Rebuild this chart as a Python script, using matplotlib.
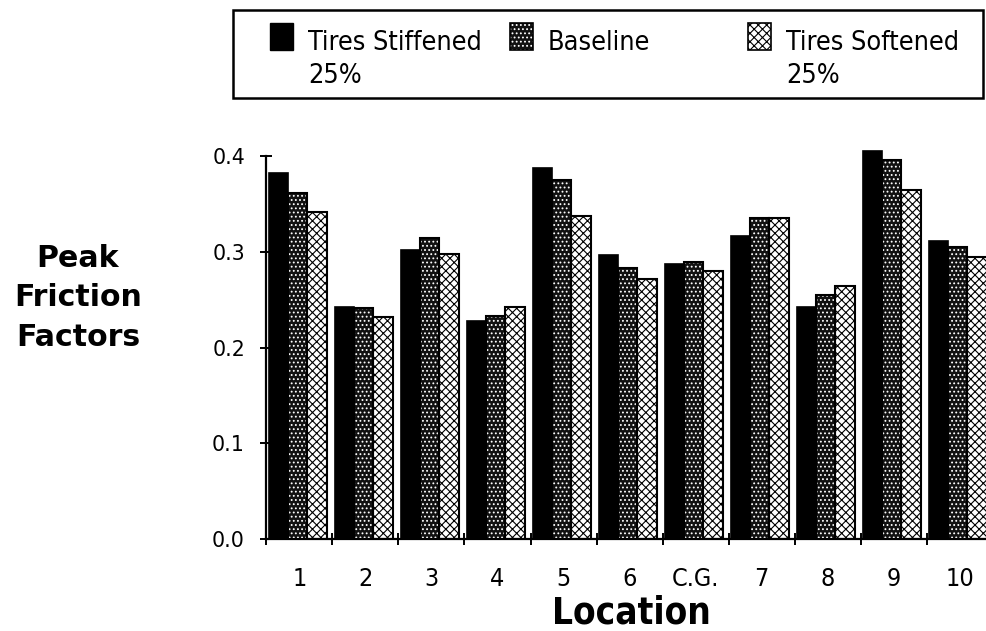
import numpy as np
import matplotlib
matplotlib.use("Agg")
import matplotlib.pyplot as plt
from matplotlib import font_manager as fm
from matplotlib.patches import Rectangle

# ---- data ----
locations = ["1", "2", "3", "4", "5", "6", "C.G.", "7", "8", "9", "10"]
stiffened = [0.382, 0.242, 0.302, 0.228, 0.387, 0.297, 0.287, 0.316, 0.242, 0.405, 0.311]
baseline = [0.361, 0.241, 0.314, 0.233, 0.375, 0.283, 0.289, 0.335, 0.255, 0.396, 0.305]
softened = [0.341, 0.232, 0.298, 0.242, 0.337, 0.272, 0.280, 0.335, 0.264, 0.365, 0.294]
yticks = [0.0, 0.1, 0.2, 0.3, 0.4]
series_names = ["Tires Stiffened\n25%", "Baseline", "Tires Softened\n25%"]

# ---- fonts ----
_names = {f.name for f in fm.fontManager.ttflist}
if "Liberation Sans Narrow" in _names:
    NARROW = dict(family="Liberation Sans Narrow")
else:
    NARROW = dict(family="DejaVu Sans", stretch="condensed")

plt.rcParams["hatch.linewidth"] = 0.8

W, H = 987, 631
fig = plt.figure(figsize=(W / 100, H / 100), dpi=100)

# axes placed in pixel terms: x from 266.5 (group boundary -0.5) with 66 px per group,
# y: 0 at 539 px, 0.4 at 156 px
px_per_unit = (539 - 156) / 0.4
ytop = 0.42
ax_left, ax_bottom = 266.5, 539
ax_w = 11 * 66.0
ax_h = ytop * px_per_unit
ax = fig.add_axes([ax_left / W, (H - ax_bottom) / H, ax_w / W, ax_h / H])
ax.set_xlim(-0.5, 10.5)
ax.set_ylim(0, ytop)

x = np.arange(len(locations))
bw = 0.29
start = -0.46
offs = [start + bw / 2 + k * bw for k in range(3)]

DOTS = "...."
CROSS = "xxxx"

def draw_series(ax, xs, vals, kind):
    if kind == "solid":
        ax.bar(xs, vals, bw, color="black", edgecolor="black", linewidth=1.2, zorder=2)
    elif kind == "dots":
        ax.bar(xs, vals, bw, color="#111111", edgecolor="#111111", linewidth=0, zorder=2)
        ax.bar(xs, vals, bw, color="none", edgecolor="white", hatch=DOTS, linewidth=0, zorder=3)
        ax.bar(xs, vals, bw, color="none", edgecolor="black", linewidth=1.5, zorder=4)
    else:
        ax.bar(xs, vals, bw, color="white", edgecolor="black", hatch=CROSS, linewidth=0, zorder=2)
        ax.bar(xs, vals, bw, color="none", edgecolor="black", linewidth=1.5, zorder=4)

draw_series(ax, x + offs[0], stiffened, "solid")
draw_series(ax, x + offs[1], baseline, "dots")
draw_series(ax, x + offs[2], softened, "cross")

for s in ["top", "right"]:
    ax.spines[s].set_visible(False)
ax.spines["left"].set_bounds(0, 0.4)
ax.spines["left"].set_linewidth(1.6)
ax.spines["bottom"].set_linewidth(1.6)
ax.spines["left"].set_zorder(5)

ax.set_yticks(yticks)
ax.set_yticklabels([f"{v:.1f}" for v in yticks], family="DejaVu Sans", fontsize=14.8)
ax.tick_params(axis="y", direction="inout", length=8, width=1.4, pad=11.5)

ax.set_xticks(np.arange(-0.5, 10.0, 1.0))
ax.set_xticklabels([])
ax.tick_params(axis="x", which="major", direction="inout", length=9, width=1.4)
ax.set_xticks(x, minor=True)
ax.set_xticklabels(locations, minor=True, fontsize=18, **NARROW)
ax.tick_params(axis="x", which="minor", length=0, pad=20)

# axis titles
fig.text(631 / W, (H - 623) / H, "Location", ha="center", va="baseline",
         fontsize=26.5, fontweight="bold", **NARROW)
fig.text(78 / W, (H - 298) / H, "Peak\nFriction\nFactors", ha="center", va="center",
         multialignment="center", fontsize=21.6, fontweight="bold",
         family="DejaVu Sans", linespacing=1.45)

# legend box in pixel coordinates
lg = fig.add_axes([0, 0, 1, 1], facecolor="none")
lg.set_xlim(0, W)
lg.set_ylim(H, 0)
lg.axis("off")
lg.add_patch(Rectangle((233, 10), 750, 88, fill=False, edgecolor="black", linewidth=1.8))

swatches = [(270, "solid"), (510, "dots"), (748, "cross")]
for (sx, kind), name in zip(swatches, series_names):
    if kind == "solid":
        lg.add_patch(Rectangle((sx, 23), 23, 27, facecolor="black", edgecolor="black", linewidth=1))
    elif kind == "dots":
        lg.add_patch(Rectangle((sx, 23), 23, 27, facecolor="#111111", edgecolor="#111111", linewidth=0))
        lg.add_patch(Rectangle((sx, 23), 23, 27, facecolor="none", edgecolor="white", hatch=DOTS, linewidth=0))
        lg.add_patch(Rectangle((sx, 23), 23, 27, facecolor="none", edgecolor="black", linewidth=1.2))
    else:
        lg.add_patch(Rectangle((sx, 23), 23, 27, facecolor="white", edgecolor="black", hatch=CROSS, linewidth=0))
        lg.add_patch(Rectangle((sx, 23), 23, 27, facecolor="none", edgecolor="black", linewidth=1.2))
    lines = name.split("\n")
    for li, line in enumerate(lines):
        lg.text(sx + 38, 50 + 33 * li, line, ha="left", va="baseline", fontsize=19.4, **NARROW)

fig.savefig("out.png", dpi=100, facecolor="white")
